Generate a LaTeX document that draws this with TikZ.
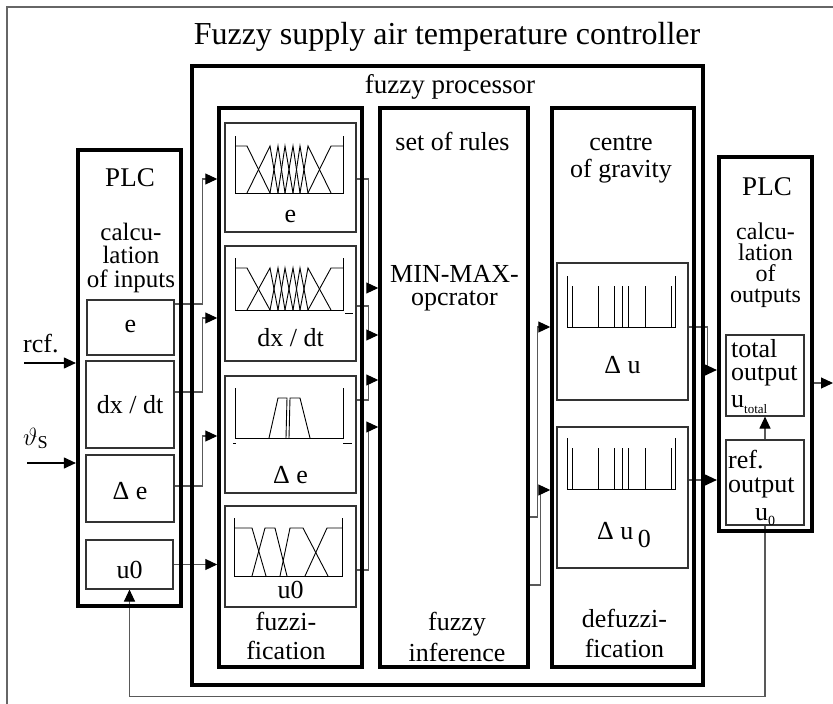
\documentclass[tikz,border=0pt]{standalone}
\usepackage{fontspec}
\setmainfont{Liberation Serif}
\usetikzlibrary{arrows.meta,positioning,calc}

\pgfdeclarelayer{bg}
\pgfsetlayers{bg,main}

\tikzset{
  >={Triangle[length=12pt,width=11pt,color=black]},
  thickbox/.style={draw, line width=3.5pt, inner sep=0pt},
  plcbox/.style={draw, line width=4.2pt, inner sep=0pt},
  thinbox/.style={draw=black!80, line width=1.1pt, inner sep=0pt},
  boxsize/.style 2 args={minimum width=#1pt, minimum height=#2pt},
  conn/.style={draw=black!65, line width=1.1pt},
  mf/.style={line width=0.9pt},
  txt/.style={font=\fontsize{26}{23}\selectfont, inner sep=0pt, anchor=base, align=center},
  frameline/.style={draw=black!60, line width=1.3pt}
}

\begin{document}
\begin{tikzpicture}[x=1pt,y=-1pt]
\useasboundingbox (0,0) rectangle (833,704);
\draw[frameline] (7,720) -- (7,7) -- (850,7);

\node[txt, font=\fontsize{32}{32}\selectfont] (title) at (447,44) {Fuzzy supply air temperature controller};

% main blocks
\node[thickbox, boxsize={511}{619}] (proc) at (447.5,375.5) {};
\node[thickbox, boxsize={143}{559}] (fuzz) at (290.5,387.5) {};
\node[thickbox, boxsize={148}{559}] (rules) at (454,387.5) {};
\node[thickbox, boxsize={142}{559}] (defuzz) at (623,387.5) {};
\node[plcbox, boxsize={103}{456}] (lplc) at (129.5,378) {};
\node[plcbox, boxsize={93}{374}] (rplc) at (765.5,344) {};

% input side
\node[thinbox, boxsize={87}{55}] (le) at (130.5,327.5) {};
\node[thinbox, boxsize={88}{87}] (ldx) at (130,404.5) {};
\node[thinbox, boxsize={88}{67}] (lde) at (130,488.5) {};
\node[thinbox, boxsize={87}{49}] (lu) at (129.5,564.5) {};

% fuzzification
\node[thinbox, boxsize={131}{109}] (fe) at (290.5,177.5) {};
\node[thinbox, boxsize={131}{115}] (fdx) at (290.5,303.5) {};
\node[thinbox, boxsize={131}{117}] (fde) at (290.5,434.5) {};
\node[thinbox, boxsize={131}{101}] (fu) at (290.5,556.5) {};

% defuzzification
\node[thinbox, boxsize={131}{137}] (du) at (622.5,331.5) {};
\node[thinbox, boxsize={131}{141}] (du0) at (622.5,497.5) {};

% output side
\node[thinbox, boxsize={78}{81}] (tot) at (765,375.5) {};
\node[thinbox, boxsize={78}{85}] (ref) at (765,482.5) {};

% texts (multi-line texts sit on their last baseline)
\node[txt, font=\fontsize{27}{27}\selectfont] (proclbl) at (450,93) {fuzzy processor};
\node[txt, font=\fontsize{27}{27}\selectfont] (lplclbl) at (130,186) {PLC};
\node[txt, font=\fontsize{25}{23.5}\selectfont] (lcalc) at (131,287) {calcu-\\lation\\of inputs};
\node[txt] (letxt) at (130.5,332) {e};
\node[txt] (ldxtxt) at (130,413) {dx / dt};
\node[txt] (ldetxt) at (130,499) {Δ e};
\node[txt] (lutxt) at (129.5,578) {u0};
\node[txt] (fetxt) at (290.5,222) {e};
\node[txt] (fdxtxt) at (290.5,346) {dx / dt};
\node[txt] (fdetxt) at (290.5,483) {Δ e};
\node[txt] (futxt) at (290.5,598) {u0};
\node[txt, font=\fontsize{26}{29}\selectfont] (fuzzlbl) at (286,659) {fuzzi-\\fication};
\node[txt] (ruleslbl) at (452.5,150) {set of rules};
\node[txt] (minmax) at (454.5,305) {MIN-MAX-\\opcrator};
\node[txt, font=\fontsize{26}{31}\selectfont] (inflbl) at (457,661) {fuzzy\\inference};
\node[txt, font=\fontsize{26}{27}\selectfont] (coglbl) at (621,177) {centre\\of gravity};
\node[txt] (dutxt) at (622.5,373) {Δ u};
\node[txt] (du0txt) at (624,539) {Δ u\,\raisebox{-8pt}{0}};
\node[txt, font=\fontsize{26}{30}\selectfont] (defuzzlbl) at (624.5,657) {defuzzi-\\fication};
\node[txt, font=\fontsize{27}{27}\selectfont] (rplclbl) at (767,195) {PLC};
\node[txt, font=\fontsize{24}{21}\selectfont] (rcalc) at (765.5,302) {calcu-\\lation\\of\\outputs};
\node[txt, anchor=base west, align=left] (tottxt) at (731,407) {total\\output\\[4pt]u\raisebox{-6pt}{\fontsize{13}{13}\selectfont total}};
\node[txt, anchor=base west, align=left, font=\fontsize{26}{24}\selectfont] (reftxt) at (728,520) {ref.\\output\\[4pt]\hspace*{27pt}u\raisebox{-5pt}{\fontsize{14}{14}\selectfont 0}};
\node[txt, anchor=base west] (reflbl) at (23,352) {rcf.};
\node[txt, anchor=base west] (thetalbl) at (23,445) {$\vartheta_{\mathrm{S}}$};

% membership functions of e and dx/dt
\foreach \yt/\ys/\yb in {136/146/193, 258/268/310} {
  \draw[mf] (235,\yt) -- (235,\yb) -- (343,\yb) -- (343,\yt);
  \draw[mf] (235,\ys) -- (247,\ys) -- (270,\yb);
  \draw[mf] (308,\yb) -- (331,\ys) -- (343,\ys);
  \foreach \xa/\xp/\xb in {247/270/278, 270/278/285, 278/285/293, 285/293/300, 293/300/308, 300/308/331}
    \draw[mf] (\xa,\yb) -- (\xp,\ys) -- (\xb,\yb);
}
\draw[mf] (345,313) -- (353,313);
% delta e
\draw[mf] (235,388) -- (235,438) -- (343,438) -- (343,388);
\draw[mf] (269,438) -- (278,398) -- (287,398) -- (286,438);
\draw[mf] (289,438) -- (290,398) -- (300,398) -- (310,438);
\draw[mf] (233,443) -- (236,443);
\draw[mf] (343,443) -- (352,443);
% u0
\draw[mf] (234,518) -- (234,576) -- (342,576) -- (342,518);
\draw[mf] (234,528) -- (252,528) -- (266,576);
\draw[mf] (252,576) -- (265,528) -- (275,528) -- (287,576);
\draw[mf] (280,576) -- (290,528) -- (303,528) -- (328,576);
\draw[mf] (305,576) -- (327,528) -- (342,528);
% singletons
\foreach \yt/\yb in {276/327, 438/489} {
  \draw[mf] (567,\yt) -- (567,\yb) -- (675,\yb) -- (675,\yt);
  \foreach \x in {572,598,614,622,628,645,671}
    \draw[mf] (\x,\yt+10) -- (\x,\yb);
}

\begin{pgfonlayer}{bg}
% PLC -> fuzzification
\draw[conn,->] ([yshift=23.5pt]le.east) -- ++(28,0) |- ([yshift=208.5pt]fuzz.west);
\draw[conn,->] ([yshift=12.5pt]ldx.east) -- ++(28,0) |- ([yshift=69.5pt]fuzz.west);
\draw[conn,->] ([yshift=2.5pt]lde.east) -- ++(28,0) |- ([yshift=-48.5pt]fuzz.west);
\draw[conn,->] (lu.east) -- (lu.east -| fuzz.west);
% fuzzification -> rules
\draw[conn,->] ([yshift=-1.5pt]fe.east) -- ++(12,0) |- ([yshift=99.5pt]rules.west);
\draw[conn,->] ([yshift=-2.5pt]fdx.east) -- ++(12,0) |- ([yshift=52.5pt]rules.west);
\draw[conn,->] ([yshift=34.5pt]fde.east) -- ++(12,0) |- ([yshift=7.5pt]rules.west);
\draw[conn,->] ([yshift=-13.5pt]fu.east) -- ++(12,0) |- ([yshift=-39.5pt]rules.west);
% rules -> defuzzification
\draw[conn,->] ([yshift=-129.5pt]rules.east) -- ++(8,0) |- ([yshift=60.5pt]defuzz.west);
\draw[conn,->] ([yshift=-197.5pt]rules.east) -- ++(11,0) |- ([yshift=-102.5pt]defuzz.west);
% defuzzification -> PLC
\draw[conn,->] ([yshift=4.5pt]du.east) -- ++(19,0) |- ([yshift=-26pt]rplc.west);
\coordinate (du0out) at ([yshift=17.5pt]du0.east);
\draw[conn,->] (du0out) -- (du0out -| rplc.west);
\draw[conn,->] (ref.north) -- (tot.south);
\coordinate (uout) at ([yshift=-39pt]rplc.east);
\coordinate (out) at (833,383);
\draw[conn,->] (uout) -- (out);
% feedback
\draw[conn,->] (ref.south) -- ++(0,171) -| (lu.south);
% inputs
\coordinate (refin) at (24,363);
\coordinate (thetain) at (27,463);
\draw[line width=1.1pt,->] (refin) -- (refin -| lplc.west);
\draw[line width=1.1pt,->] (thetain) -- (thetain -| lplc.west);
\end{pgfonlayer}
\end{tikzpicture}
\end{document}
